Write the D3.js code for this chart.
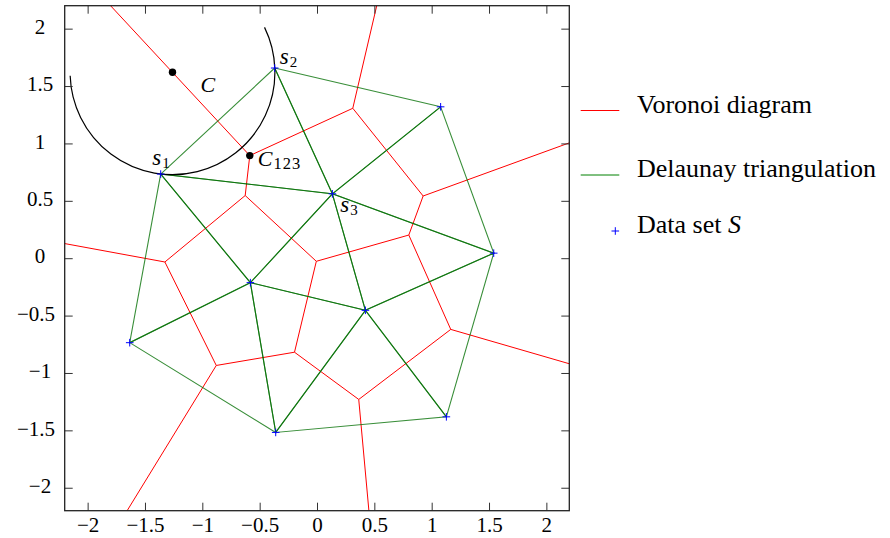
<!DOCTYPE html>
<html>
<head>
<meta charset="utf-8">
<script src="https://cdn.jsdelivr.net/npm/d3@7"></script>
</head>
<body style="margin:0">
<svg id="chart" width="890" height="538"></svg>
<script>
// Sites of the data set S (x, y)
const siteX = [-1.363, -0.369, 0.134, 1.078, 1.541, -0.581, 0.422, -1.633, -0.360, 1.128];
const siteY = [0.733, 1.657, 0.561, 1.319, 0.044, -0.213, -0.454, -0.736, -1.518, -1.382];
// Named sites s1, s2, s3 (indices into the arrays above)
const namedSites = [0, 1, 2];
const namedSiteLabels = ["1", "2", "3"];
// Centre of the empty circle C (lies on the bisector of s1 and s2)
const circleCenter = [-1.26, 1.62];
const arcDegrees = [182, 386];
// Axis ticks
const tickValues = [-2, -1.5, -1, -0.5, 0, 0.5, 1, 1.5, 2];
const domain = [-2.2, 2.2];
// Legend entries
const legendNames = ["Voronoi diagram", "Delaunay triangulation", "Data set "];

const SERIF = '"Liberation Serif"';
// Warm up the serif face (regular and italic) before any text is laid out
const warm = document.createElement("canvas").getContext("2d");
["", "italic "].forEach(s => { warm.font = `${s}20px ${SERIF}`; warm.measureText("Voronoi diagram 1.5 s C"); });

const svg = d3.select("#chart");
const plot = { left: 64.7, right: 569.3, top: 5.7, bottom: 510.7 };
const sx = d3.scaleLinear().domain(domain).range([plot.left, plot.right]);
const sy = d3.scaleLinear().domain(domain).range([plot.bottom, plot.top]);

const points = siteX.map((x, i) => [x, siteY[i]]);
const delaunay = d3.Delaunay.from(points);
const voronoi = delaunay.voronoi([domain[0], domain[0], domain[1], domain[1]]);

// A context that projects data coordinates through the scales
function projected(path) {
  return {
    moveTo: (x, y) => path.moveTo(sx(x), sy(y)),
    lineTo: (x, y) => path.lineTo(sx(x), sy(y)),
    closePath: () => path.closePath()
  };
}

// Voronoi diagram
const vPath = d3.path();
voronoi.render(projected(vPath));
svg.append("path").attr("d", vPath.toString())
  .attr("fill", "none").attr("stroke", "#ff0000").attr("stroke-width", 1);

// Delaunay triangulation, one path per triangle (shared edges overlap)
const nTri = delaunay.triangles.length / 3;
for (let t = 0; t < nTri; t++) {
  const p = d3.path();
  delaunay.renderTriangle(t, projected(p));
  svg.append("path").attr("d", p.toString())
    .attr("fill", "none").attr("stroke", "#006e00")
    .attr("stroke-opacity", 0.78).attr("stroke-width", 1.1);
}

// Circle C through s1 and s2
const s1 = points[namedSites[0]];
const radius = Math.hypot(s1[0] - circleCenter[0], s1[1] - circleCenter[1]);
const arc = d3.path();
const rad = d => d * Math.PI / 180;
arc.arc(sx(circleCenter[0]), sy(circleCenter[1]), sx(radius) - sx(0),
        -rad(arcDegrees[0]), -rad(arcDegrees[1]), true);
svg.append("path").attr("d", arc.toString())
  .attr("fill", "none").attr("stroke", "#000").attr("stroke-width", 1.2);

// Circumcentre of s1, s2, s3
function circumcenter(a, b, c) {
  const d = 2 * (a[0] * (b[1] - c[1]) + b[0] * (c[1] - a[1]) + c[0] * (a[1] - b[1]));
  const a2 = a[0] * a[0] + a[1] * a[1], b2 = b[0] * b[0] + b[1] * b[1], c2 = c[0] * c[0] + c[1] * c[1];
  return [
    (a2 * (b[1] - c[1]) + b2 * (c[1] - a[1]) + c2 * (a[1] - b[1])) / d,
    (a2 * (c[0] - b[0]) + b2 * (a[0] - c[0]) + c2 * (b[0] - a[0])) / d
  ];
}
const c123 = circumcenter(points[0], points[1], points[2]);
svg.selectAll("circle.dot").data([circleCenter, c123]).join("circle")
  .attr("class", "dot")
  .attr("cx", d => sx(d[0])).attr("cy", d => sy(d[1])).attr("r", 3.7)
  .attr("fill", "#000");

// Data set markers
const plus = "M-3.8,0H3.8M0,-3.8V3.8";
svg.selectAll("path.site").data(points).join("path")
  .attr("class", "site")
  .attr("d", plus)
  .attr("transform", d => `translate(${sx(d[0])},${sy(d[1])})`)
  .attr("fill", "none").attr("stroke", "#0000ff").attr("stroke-width", 1);

// Site labels s1, s2, s3
const labelOffsets = [[-8.5, -9.3], [5, -4.3], [8, 17.7]];
namedSites.forEach((idx, k) => {
  const p = points[idx];
  const t = svg.append("text")
    .attr("x", sx(p[0]) + labelOffsets[k][0])
    .attr("y", sy(p[1]) + labelOffsets[k][1])
    .attr("font-family", SERIF).attr("font-size", 23);
  t.append("tspan").attr("font-style", "italic").text("s");
  t.append("tspan").attr("font-size", 15).attr("dy", 3).attr("dx", 1).text(namedSiteLabels[k]);
});

// Labels C and C123
svg.append("text")
  .attr("x", sx(circleCenter[0]) + 28).attr("y", sy(circleCenter[1]) + 20)
  .attr("font-family", SERIF).attr("font-size", 22).attr("font-style", "italic").text("C");
const cl = svg.append("text")
  .attr("x", sx(c123[0]) + 8).attr("y", sy(c123[1]) + 10)
  .attr("font-family", SERIF).attr("font-size", 22);
cl.append("tspan").attr("font-style", "italic").text("C");
cl.append("tspan").attr("font-size", 16.5)
  .attr("dy", 3.3).attr("dx", 1).attr("letter-spacing", 1).text("123");

// Axes: inward ticks on all four sides
const fmt = d3.format("");
const tickLen = 8;
const gb = svg.append("g").attr("transform", `translate(0,${plot.bottom})`)
  .call(d3.axisBottom(sx).tickValues(tickValues).tickSize(-tickLen).tickFormat(fmt));
gb.selectAll("text").attr("y", 21).attr("dy", 0);
const gt = svg.append("g").attr("transform", `translate(0,${plot.top})`)
  .call(d3.axisTop(sx).tickValues(tickValues).tickSize(-tickLen).tickFormat(""));
const gl = svg.append("g").attr("transform", `translate(${plot.left},0)`)
  .call(d3.axisLeft(sy).tickValues(tickValues).tickSize(-tickLen).tickFormat(fmt));
const gr = svg.append("g").attr("transform", `translate(${plot.right},0)`)
  .call(d3.axisRight(sy).tickValues(tickValues).tickSize(-tickLen).tickFormat(""));
[gb, gt, gl, gr].forEach(g => {
  g.attr("font-family", SERIF).attr("font-size", 21);
  g.select(".domain").remove();
  g.selectAll(".tick line").attr("stroke", "#333").attr("stroke-width", 1);
  g.selectAll("text").attr("font-family", SERIF).attr("font-size", 21).attr("fill", "#000");
});
gl.selectAll("text").each(function () {
  const w = this.getComputedTextLength();
  const cx = Math.min(40, 55 - w / 2) - plot.left;
  d3.select(this).attr("text-anchor", "middle").attr("x", cx).attr("dy", 0).attr("y", 4.7);
});

// Frame
svg.append("rect")
  .attr("x", plot.left).attr("y", plot.top)
  .attr("width", plot.right - plot.left).attr("height", plot.bottom - plot.top)
  .attr("fill", "none").attr("stroke", "#222").attr("stroke-width", 1.3);

// Legend
const legend = svg.append("g");
const legendY = [110, 175, 231];
legend.append("line").attr("x1", 580.7).attr("x2", 619.3)
  .attr("y1", legendY[0] + 0.5).attr("y2", legendY[0] + 0.5)
  .attr("stroke", "#ff0000").attr("stroke-width", 1);
legend.append("line").attr("x1", 580.7).attr("x2", 619.3)
  .attr("y1", legendY[1]).attr("y2", legendY[1])
  .attr("stroke", "#008000").attr("stroke-width", 1);
legend.append("path").attr("d", plus)
  .attr("transform", `translate(615.3,${legendY[2]})`)
  .attr("fill", "none").attr("stroke", "#0000ff").attr("stroke-width", 1);
const legendBase = [113.3, 177.3, 233.3];
legendNames.forEach((name, i) => {
  const t = legend.append("text").attr("x", 637).attr("y", legendBase[i])
    .attr("font-family", SERIF).attr("font-size", 26);
  t.append("tspan").text(name);
  if (i === 2) t.append("tspan").attr("font-style", "italic").text("S");
});
</script>
</body>
</html>
